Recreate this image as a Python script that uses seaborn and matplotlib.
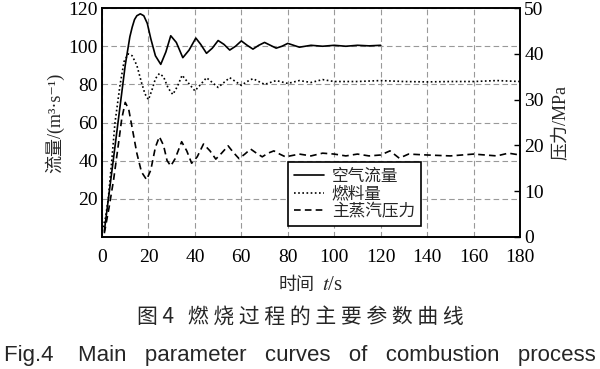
import numpy as np
import pandas as pd
import matplotlib
matplotlib.use("Agg")
import matplotlib.pyplot as plt
import seaborn as sns

# values
air_t = [1, 4, 7, 10, 12, 13, 14, 15, 16.5, 18, 19.5, 21, 23, 25.3, 27.5, 29.6, 32,
         34.8, 37.5, 40.4, 42.5, 45, 47.5, 50, 52.5, 55, 57.5, 60, 62.5, 65, 67.5,
         70, 72.5, 75, 77.5, 80, 85, 90, 95, 100, 105, 110, 115, 120]
air_flow = [3, 32, 61, 90, 105, 110, 114, 116, 117, 116, 112, 104, 95, 90.5, 97,
            105.5, 102, 94, 98, 104.3, 101, 96.3, 99, 103, 101, 98, 100, 102.8, 100.5,
            98.5, 100.5, 102, 100.5, 99, 100, 101.5, 99.5, 100.5, 100, 100.5, 100,
            100.5, 100.2, 100.5]

fuel_t = [0, 1.5, 2.7, 4.2, 5.6, 7.8, 9.5, 11.3, 13, 15, 17, 18.5, 20, 21.5, 23,
          24.7, 26.5, 28.5, 30.5, 32.5, 34.5, 37, 40, 42.5, 45, 47.5, 50, 52.5, 55,
          57.5, 60, 62.5, 65, 67.5, 70, 75, 80, 85, 90, 95, 100, 110, 120, 130, 140,
          150, 160, 170, 180]
fuel_flow = [3, 10, 20, 40, 60, 80, 92, 96, 95, 90, 81, 75, 72, 77, 83, 85.7, 84, 78,
             74.7, 79, 84.8, 81, 76.6, 80, 83.5, 81, 78.4, 81, 83.5, 81.5, 79.5, 81.5,
             83, 81.5, 80, 82, 80.5, 82, 81, 82.5, 81.5, 81.5, 82, 81.5, 81.3, 81.5,
             81.5, 82, 81.5]

steam_t = [1, 3, 5, 7, 8.5, 10, 11.5, 13, 15, 17, 19.2, 21, 23, 24.7, 26.5, 28, 29.6,
           31.5, 34.3, 36.5, 38.6, 41, 43.7, 46.5, 49, 51.5, 54.3, 56.5, 59, 61.5, 64,
           66.5, 69, 71.5, 74, 76.5, 79, 85, 90, 95, 100, 105, 110, 115, 120, 124, 128,
           132, 140, 150, 160, 170, 175, 180]
steam_p = [0.8, 6.3, 12.5, 20, 25.8, 29.4, 27.9, 23.8, 18.3, 14.2, 12.5, 14.6, 19.6,
           21.9, 20, 16.7, 15.5, 17.1, 20.8, 18.8, 16.1, 17.5, 20.3, 18.8, 17, 18.3,
           19.9, 18.5, 17.1, 18.1, 19.2, 18.3, 17.5, 18.3, 18.8, 18.1, 17.5, 18.1, 17.7,
           18.3, 18.1, 17.7, 18.1, 17.7, 17.9, 18.8, 17.2, 18.1, 17.9, 17.7, 18.1, 17.7,
           18.3, 17.9]

labels = ["空气流量", "燃料量", "主蒸汽压力"]

sns.set_style("white")
plt.rcParams["font.family"] = ["Liberation Serif", "Noto Sans CJK SC", "DejaVu Serif"]
plt.rcParams["mathtext.fontset"] = "stix"
plt.rcParams["axes.unicode_minus"] = False

fig = plt.figure(figsize=(6, 3.69), dpi=100)
ax = fig.add_axes([0.17, 0.358, 0.6967, 0.62])
ax2 = ax.twinx()

sns.lineplot(x=air_t, y=air_flow, ax=ax, color="black", lw=1.2, label=labels[0])
sns.lineplot(x=fuel_t, y=fuel_flow, ax=ax, color="black", lw=1.2, label=labels[1])
ax.lines[1].set_linestyle((0, (1, 1.5)))
sns.lineplot(x=steam_t, y=steam_p, ax=ax2, color="black", lw=1.2, label=labels[2])
ax2.lines[0].set_linestyle((0, (4, 2.5)))

ax.set_xlim(0, 180)
ax.set_ylim(0, 120)
ax2.set_ylim(0, 50)
ax.set_xticks(range(0, 181, 20))
ax.set_yticks(range(20, 121, 20))
ax2.set_yticks(range(0, 51, 10))

ax.grid(True, color="#999999", ls=(0, (5, 3)), lw=0.8)
ax.set_axisbelow(True)
for a in (ax, ax2):
    for s in a.spines.values():
        s.set_linewidth(1.2)
        s.set_color("black")
    a.tick_params(direction="in", length=4, width=1, labelsize=14, colors="black",
                  pad=3)
ax.tick_params(axis="y", length=0)
ax.tick_params(axis="x", pad=9)

# axis titles (CJK part and serif/italic part drawn separately)
fig.text(315 / 600, 1 - 285 / 369, "时间", ha="right", va="center", fontsize=13,
         family="Noto Sans CJK SC")
fig.text(322 / 600, 1 - 285 / 369, "$t$/s", ha="left", va="center", fontsize=15)
ax.set_ylabel("流量/(m³·s⁻¹)", fontsize=13, labelpad=3)
ax2.set_ylabel("压力/MPa", fontsize=13, labelpad=6)

h1, l1 = ax.get_legend_handles_labels()
h2, l2 = ax2.get_legend_handles_labels()
ax.get_legend().remove()
ax2.get_legend().remove()
leg = ax2.legend(h1 + h2, l1 + l2, loc="upper left", bbox_to_anchor=(0.445, 0.328),
                 prop={"family": "Noto Sans CJK SC", "size": 12}, fancybox=False,
                 framealpha=1, edgecolor="black", handlelength=1.8, handletextpad=0.45,
                 labelspacing=0.02, borderpad=0.38, borderaxespad=0)
leg.get_frame().set_linewidth(1.2)

fig.text(300 / 600, 1 - 317 / 369, "图 4   燃 烧 过 程 的 主 要 参 数 曲 线", ha="center",
         va="center", fontsize=15, family="Noto Sans CJK SC")
fig.text(0.5, 1 - 355 / 369,
         "Fig.4    Main   parameter   curves   of   combustion   process",
         ha="center", va="center", fontsize=16, family="Liberation Sans")

fig.savefig("out.png", dpi=100)
